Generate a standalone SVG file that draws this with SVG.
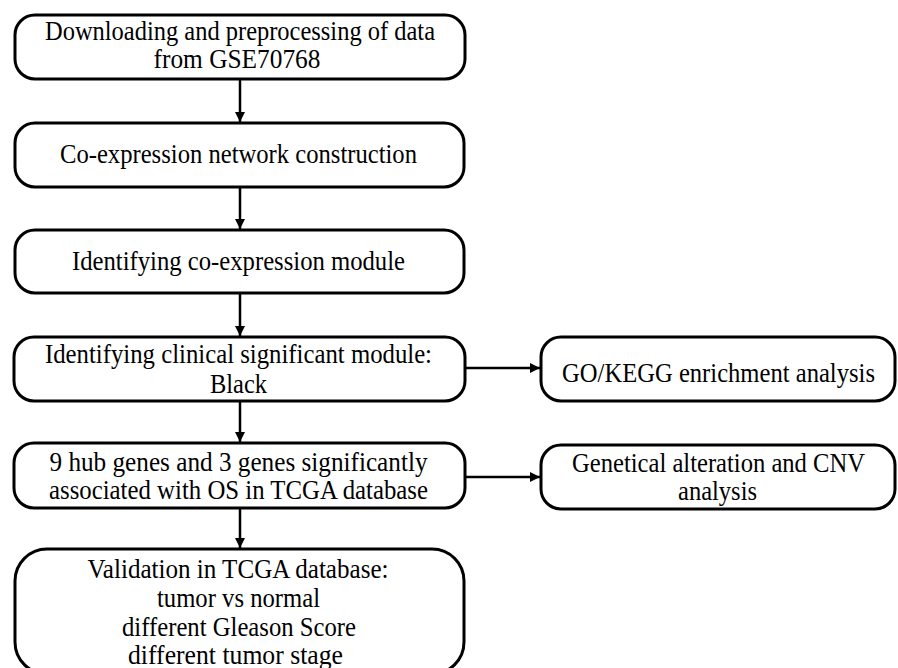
<svg xmlns="http://www.w3.org/2000/svg" width="898" height="668" viewBox="0 0 898 668">
<style>
.box{fill:#fff;stroke:#000;stroke-width:3}
.c{stroke:#000;stroke-width:2.5;fill:none;marker-end:url(#ah)}
</style>
<defs>
<marker id="ah" viewBox="0 0 10 10" refX="10" refY="5" markerWidth="4" markerHeight="4" orient="auto" markerUnits="strokeWidth">
<path d="M0,0 L10,5 L0,10 z" fill="#000"/>
</marker>
</defs>
<rect width="898" height="668" fill="#fff"/>
<g id="connectors">
<line class="c" x1="240" y1="80" x2="240" y2="122"/>
<line class="c" x1="240" y1="188" x2="240" y2="229"/>
<line class="c" x1="240" y1="294" x2="240" y2="336"/>
<line class="c" x1="240" y1="402" x2="240" y2="442"/>
<line class="c" x1="240" y1="509" x2="240" y2="548"/>
<line class="c" x1="465" y1="368" x2="540" y2="368"/>
<line class="c" x1="465" y1="477" x2="540" y2="477"/>
</g>
<g font-family="Liberation Serif, DejaVu Serif, serif" font-size="27" fill="#000" text-anchor="middle">
<g id="n1">
<rect class="box" x="15" y="15" width="450" height="64" rx="20"/>
<text x="240" y="40" textLength="390" lengthAdjust="spacingAndGlyphs">Downloading and preprocessing of data</text>
<text x="237" y="68" textLength="167" lengthAdjust="spacingAndGlyphs">from GSE70768</text>
</g>
<g id="n2">
<rect class="box" x="15" y="123" width="449" height="64" rx="20"/>
<text x="238.5" y="163" textLength="357" lengthAdjust="spacingAndGlyphs">Co-expression network construction</text>
</g>
<g id="n3">
<rect class="box" x="15" y="230" width="449" height="63" rx="20"/>
<text x="238.5" y="270" textLength="333" lengthAdjust="spacingAndGlyphs">Identifying co-expression module</text>
</g>
<g id="n4">
<rect class="box" x="14" y="337" width="451" height="64" rx="20"/>
<text x="238.5" y="363" textLength="387" lengthAdjust="spacingAndGlyphs">Identifying clinical significant module:</text>
<text x="238.5" y="393" textLength="57" lengthAdjust="spacingAndGlyphs">Black</text>
</g>
<g id="n5">
<rect class="box" x="14" y="443" width="451" height="65" rx="20"/>
<text x="238.5" y="471" textLength="378" lengthAdjust="spacingAndGlyphs">9 hub genes and 3 genes significantly</text>
<text x="238.5" y="499" textLength="379" lengthAdjust="spacingAndGlyphs">associated with OS in TCGA database</text>
</g>
<g id="n6">
<rect class="box" x="15" y="549" width="449" height="125" rx="32"/>
<text x="238" y="578" textLength="301" lengthAdjust="spacingAndGlyphs">Validation in TCGA database:</text>
<text x="238.5" y="607" textLength="163" lengthAdjust="spacingAndGlyphs">tumor vs normal</text>
<text x="239" y="636" textLength="234" lengthAdjust="spacingAndGlyphs">different Gleason Score</text>
<text x="235.5" y="664" textLength="215" lengthAdjust="spacingAndGlyphs">different tumor stage</text>
</g>
<g id="n7">
<rect class="box" x="541" y="337" width="354" height="64" rx="20"/>
<text x="718.5" y="382" textLength="313" lengthAdjust="spacingAndGlyphs">GO/KEGG enrichment analysis</text>
</g>
<g id="n8">
<rect class="box" x="541" y="445" width="354" height="64" rx="20"/>
<text x="718.5" y="472" textLength="293" lengthAdjust="spacingAndGlyphs">Genetical alteration and CNV</text>
<text x="717.5" y="500" textLength="79" lengthAdjust="spacingAndGlyphs">analysis</text>
</g>
</g>
</svg>
